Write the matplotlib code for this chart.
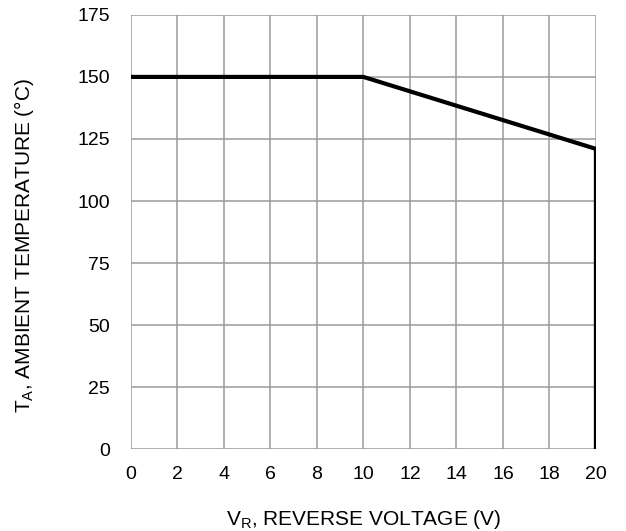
import numpy as np
import matplotlib
matplotlib.use('Agg')
import matplotlib.pyplot as plt

plt.rcParams['font.family'] = ['Liberation Sans', 'DejaVu Sans']
plt.rcParams['mathtext.fontset'] = 'custom'
plt.rcParams['mathtext.rm'] = 'Liberation Sans'

# curva di derating
tensione = [0, 10, 20, 20]
temperatura = [150, 150, 121, 0]

x_ticks = list(range(0, 21, 2))
y_ticks = list(range(0, 176, 25))

fig = plt.figure(figsize=[6.26, 5.31], dpi=100)
ax = fig.add_axes([0.209, 0.154, 0.743, 0.818])

ax.plot(tensione, temperatura, color='black', lw=3, solid_joinstyle='miter', zorder=3)

ax.set_xlim(0, 20)
ax.set_ylim(0, 175)
ax.set_xticks(x_ticks)
ax.set_yticks(y_ticks)
ax.grid(True, color='#9a9a9a', lw=1.1)
for s in ax.spines.values():
    s.set_visible(False)
ax.tick_params(length=0, labelsize=14)
ax.tick_params(axis='x', pad=12)
ax.tick_params(axis='y', pad=15)

ax.set_xlabel(r'V$\mathregular{_R}$, REVERSE VOLTAGE (V)', fontsize=15, labelpad=18)
ax.set_ylabel(r'T$\mathregular{_A}$, AMBIENT TEMPERATURE (°C)', fontsize=15, labelpad=30)
ax.yaxis.label.set_y(0.47)

fig.savefig('out.png', dpi=100)
